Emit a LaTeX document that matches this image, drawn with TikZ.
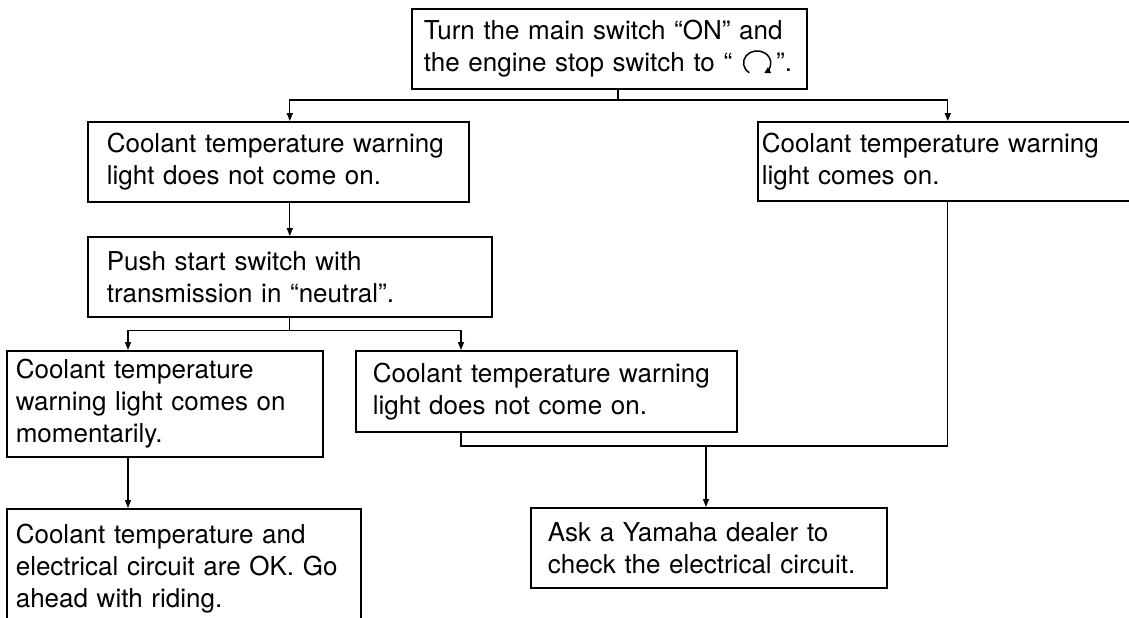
\documentclass[tikz,border=0pt]{standalone}
\usepackage{fontspec}
\setmainfont{TeX Gyre Heros}
\usetikzlibrary{arrows.meta}
\tikzset{
  bx/.style={draw=black,line width=.8pt,anchor=north west,align=left,inner ysep=0pt,
             font=\fontsize{13}{16}\selectfont},
  ln/.style={draw=black,line width=.65pt},
  arr/.style={ln,-{Triangle[length=4pt,width=3pt]}},
}
% the engine stop switch sign: an open circle with an arrow
\newcommand{\runsym}{\tikz[baseline=-4.4pt]
  \draw[line width=.75pt,-{Triangle[length=3pt,width=3.2pt]}]
    (235:6.8pt and 6pt) arc[start angle=235,end angle=-58,x radius=6.8pt,y radius=6pt];}

\begin{document}
\begin{tikzpicture}[x=.5pt,y=-.5pt]
\useasboundingbox (0,0) rectangle (1129,617);
\clip (0,0) rectangle (1129,617);
% boxes, placed by their top left corner
\node[bx,inner xsep=6pt,text width=185.5pt,minimum height=40pt] (top) at (411,8)
  {Turn the main switch “ON” and\\the engine stop switch to “ \runsym\,”.};
\node[bx,inner xsep=9.5pt,text width=171.5pt,minimum height=40pt] (offA) at (87,121)
  {Coolant temperature warning\\light does not come on.};
\node[bx,inner xsep=2pt,text width=186pt,minimum height=39.5pt] (onA) at (757,121)
  {Coolant temperature warning\\light comes on.};
\node[bx,inner xsep=9.5pt,text width=183pt,minimum height=40pt] (push) at (87,236)
  {Push start switch with\\transmission in “neutral”.};
\node[bx,inner xsep=4.5pt,text width=149pt,minimum height=53pt] (momC) at (6,350)
  {Coolant temperature\\warning light comes on\\momentarily.};
\node[bx,inner xsep=8.5pt,text width=173.5pt,minimum height=40.5pt] (offD) at (355,350)
  {Coolant temperature warning\\light does not come on.};
\node[bx,inner xsep=4.5pt,text width=168pt,minimum height=60pt] (ok) at (6,508)
  {Coolant temperature and\\electrical circuit are OK. Go\\ahead with riding.};
\node[bx,inner xsep=8.5pt,text width=161pt,minimum height=40pt] (dealer) at (530,507)
  {Ask a Yamaha dealer to\\check the electrical circuit.};
% connectors
\coordinate (t1) at (618,100);
\path (push.south) ++(0,13) coordinate (t2);
\coordinate (j) at (706,446);
\draw[ln] (top.south -| t1) -- (t1);
\draw[arr] (t1) -| (offA.north -| push.north);
\draw[arr] (t1) -| (onA.north);
\draw[arr] (offA.south -| push.north) -- (push.north);
\draw[ln] (push.south) -- (t2);
\draw[arr] (t2) -| ([xshift=61pt]momC.north west);
\draw[arr] (t2) -| ([xshift=53pt]offD.north west);
\draw[arr] ([xshift=61pt]momC.south west) -- ([xshift=61pt]ok.north west);
\draw[ln] ([xshift=53pt]offD.south west) |- (j) -| (onA.south);
\draw[arr] (j) -- (dealer.north -| j);
\end{tikzpicture}
\end{document}
